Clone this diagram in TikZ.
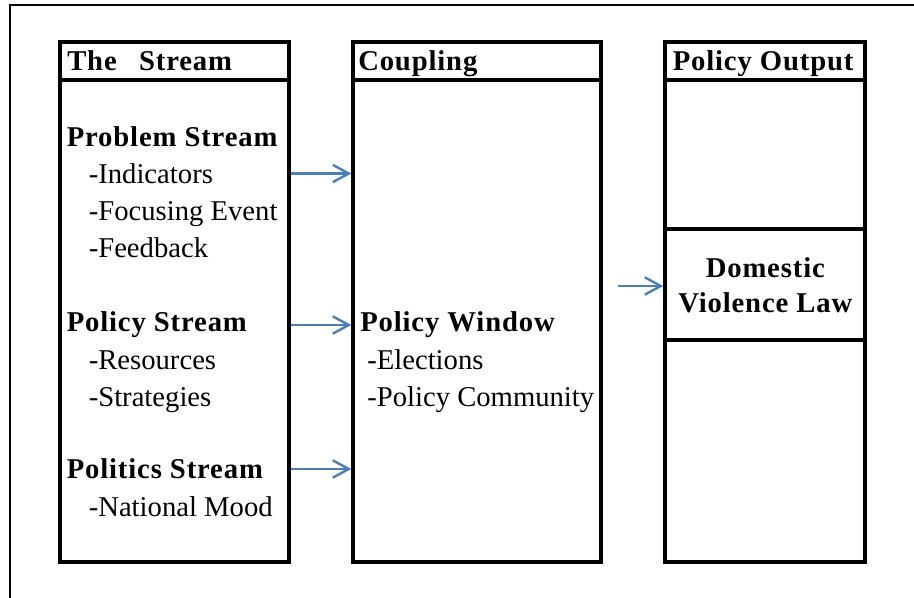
\documentclass[tikz,border=0pt]{standalone}
\usepackage{fontspec}
\setmainfont{Liberation Serif}
\usetikzlibrary{arrows.meta,fit}

\definecolor{arrowblue}{HTML}{4A7EBB}

\tikzset{
	colbox/.style={draw, line width=3pt, inner sep=0pt},
	rowline/.style={line width=3pt},
	head/.style={anchor=base west, inner sep=0pt, font=\fontsize{21.5}{25}\selectfont\bfseries\addfontfeature{LetterSpace=3}},
	item/.style={anchor=base west, inner sep=0pt, font=\fontsize{21.5}{25}\selectfont},
	lawtext/.style={anchor=base, inner sep=0pt, font=\fontsize{21.5}{25}\selectfont\bfseries\addfontfeature{LetterSpace=3}},
	flow/.style={draw=arrowblue, line width=1.8pt, -{Straight Barb[length=12pt,width=13pt]}}
}

\begin{document}
\begin{tikzpicture}[x=0.75pt,y=-0.75pt]
	\useasboundingbox (0,0) rectangle (914,598);
	% outer frame (runs off the page at right and bottom)
	\draw[line width=1.5pt] (10,5) rectangle (940,620);
	% the three columns
	\node[colbox, fit={(59.5,42.5) (289,562)}] (stream) {};
	\node[colbox, fit={(353.3,42.5) (600.7,562)}] (coupling) {};
	\node[colbox, fit={(665.3,42.5) (865.3,562)}] (output) {};
	% header rows
	\coordinate (headrow) at (0,80);
	\foreach \col in {stream,coupling,output}{
		\draw[rowline] (\col.west |- headrow) -- (\col.east |- headrow);
	}
	% law cell in the output column
	\coordinate (lawtop) at (0,228.7);
	\coordinate (lawbot) at (0,340);
	\draw[rowline] (output.west |- lawtop) -- (output.east |- lawtop);
	\draw[rowline] (output.west |- lawbot) -- (output.east |- lawbot);
	% headers
	\node[head] (streamhead) at (67,71) {The\enspace\ Stream};
	\node[head] (couplinghead) at (358,70.5) {Coupling};
	\node[head] (outputhead) at (672.5,70.5) {Policy Output};
	% stream column
	\node[head] (problem) at (66.5,146.5) {Problem Stream};
	\node[item] (indicators) at (88.5,184) {-Indicators};
	\node[item] (focusing) at (88.5,221) {-Focusing Event};
	\node[item] (feedback) at (88.5,258) {-Feedback};
	\node[head] (policy) at (66.5,332) {Policy Stream};
	\node[item] (resources) at (88.5,369.5) {-Resources};
	\node[item] (strategies) at (88.5,406.5) {-Strategies};
	\node[head] (politics) at (66.5,479) {Politics Stream};
	\node[item] (mood) at (88.5,516.5) {-National Mood};
	% coupling column
	\node[head] (window) at (360,332) {Policy Window};
	\node[item] (elections) at (367,369.5) {-Elections};
	\node[item] (community) at (367,406.5) {-Policy Community};
	% output column
	\node[lawtext] (domestic) at (765.3,278) {Domestic};
	\node[lawtext] (law) at (765.3,313) {Violence Law};
	% arrows
	\coordinate (probrow) at (0,173.5);
	\coordinate (polrow) at (0,325);
	\coordinate (politrow) at (0,469);
	\coordinate (lawin) at (618,286);
	\draw[flow] (stream.east |- probrow) -- (coupling.west |- probrow);
	\draw[flow] (stream.east |- polrow) -- (coupling.west |- polrow);
	\draw[flow] (stream.east |- politrow) -- (coupling.west |- politrow);
	\draw[flow] (lawin) -- (output.west |- lawin);
\end{tikzpicture}
\end{document}
